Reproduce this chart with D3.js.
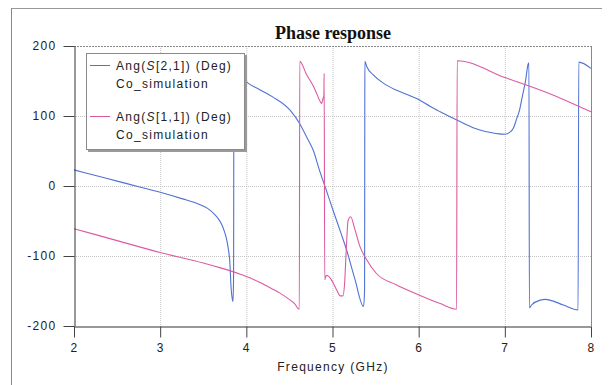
<!DOCTYPE html>
<html>
<head>
<meta charset="utf-8">
<script src="https://cdn.jsdelivr.net/npm/d3@7/dist/d3.min.js"></script>
<style>
  html, body { margin: 0; padding: 0; background: #fff; }
  svg { display: block; }
  .lbl { font-family: "Liberation Sans", Arial, sans-serif; font-size: 12px; letter-spacing: 1.3px; fill: #222; }
</style>
</head>
<body>
<svg id="chart" width="613" height="385"></svg>
<script>
// Frequency axis ticks (GHz) and phase axis ticks (degrees)
const freqTicks = [2, 3, 4, 5, 6, 7, 8];
const phaseTicks = [-200, -100, 0, 100, 200];

// Ang(S[2,1]) phase samples
const s21Freq = [2.0, 2.25, 2.5, 2.75, 3.0, 3.25, 3.45, 3.55, 3.62, 3.67, 3.71, 3.74, 3.765, 3.79, 3.81, 3.82, 3.835, 3.845,
  3.852, 3.856, 3.9, 3.95, 4.0, 4.02, 4.15, 4.31, 4.51, 4.62, 4.7, 4.78, 4.85, 4.92, 5.01, 5.1, 5.16, 5.26, 5.36,
  5.372, 5.376, 5.4, 5.47, 5.59, 5.74, 5.9, 6.01, 6.13, 6.25, 6.48, 6.71, 6.85, 6.93, 7.0, 7.06, 7.1, 7.14, 7.17,
  7.2, 7.24, 7.27, 7.28, 7.285, 7.31, 7.41, 7.47, 7.52, 7.68, 7.85, 7.858, 8.0];
const s21Phase = [23, 15, 7, -1, -9, -18, -26, -32, -39, -46, -54, -63, -73, -89, -112, -139, -160, -165,
  -130, 175, 162, 153, 149, 147, 138, 127, 108, 89, 70, 50, 22, -3, -36, -68, -90, -133, -172,
  -150, 178, 170, 159, 147, 137, 129, 123, 114, 106, 92, 80, 76, 74.5, 74, 77, 83, 97, 108,
  126, 150, 174, 176, -174, -170, -163, -162, -163, -170, -177, 177, 168];

// Ang(S[1,1]) phase samples
const s11Freq = [2.0, 2.5, 3.0, 3.5, 3.7, 3.93, 4.04, 4.16, 4.3, 4.39, 4.51, 4.56, 4.6, 4.615, 4.62, 4.7, 4.78, 4.82, 4.86,
  4.875, 4.89, 4.9, 4.903, 4.91, 4.925, 4.94, 5.01, 5.05, 5.09, 5.12, 5.14, 5.16, 5.18, 5.21, 5.26, 5.32, 5.4,
  5.51, 5.74, 6.01, 6.25, 6.44, 6.447, 7.0, 7.5, 8.0];
const s11Phase = [-61, -78, -95, -110, -117, -126, -131, -138, -147, -153, -163, -168, -175, -176, 178, 159, 142, 131, 120,
  118, 125, 130, 161, -134, -128, -128, -139, -149, -157, -157, -140, -90, -50, -44, -62, -87, -106,
  -125, -141, -156, -168, -176, 179, 155, 133, 106];

const seriesNames = ["Ang(S[2,1]) (Deg)", "Ang(S[1,1]) (Deg)"];
const sourceName = "Co_simulation";
const colors = ["#4f72d3", "#dc5aa2"];

const svg = d3.select("#chart");
const x = d3.scaleLinear().domain([2, 8]).range([74, 591]);
const y = d3.scaleLinear().domain([-200, 200]).range([326, 46]);

// outer frame (top and left edges)
svg.append("line").attr("x1", 11).attr("x2", 602).attr("y1", 8.5).attr("y2", 8.5)
  .attr("stroke", "#999").attr("stroke-width", 1);
svg.append("line").attr("x1", 11.5).attr("x2", 11.5).attr("y1", 8).attr("y2", 385)
  .attr("stroke", "#888").attr("stroke-width", 1);

// title
svg.append("text").attr("x", 333).attr("y", 39).attr("text-anchor", "middle")
  .style("font-family", "'Liberation Serif', 'Times New Roman', serif")
  .style("font-weight", "bold").style("font-size", "18px").style("fill", "#111")
  .text("Phase response");

// grid
const grid = svg.append("g");
grid.selectAll("line.v").data(freqTicks.slice(1, -1)).join("line")
  .attr("x1", d => x(d) + 0.5).attr("x2", d => x(d) + 0.5)
  .attr("y1", y(200)).attr("y2", y(-200))
  .attr("stroke", "#c4c4c4").attr("stroke-dasharray", "1,1");
grid.selectAll("line.h").data(phaseTicks.slice(1, -1)).join("line")
  .attr("x1", x(2)).attr("x2", x(8))
  .attr("y1", d => y(d) + 0.5).attr("y2", d => y(d) + 0.5)
  .attr("stroke", "#c4c4c4").attr("stroke-dasharray", "1,1");
// top and right borders of the plot
svg.append("line").attr("x1", x(2)).attr("x2", x(8)).attr("y1", y(200) + 0.5).attr("y2", y(200) + 0.5)
  .attr("stroke", "#888").attr("stroke-dasharray", "2,1");
svg.append("line").attr("x1", x(8) + 0.5).attr("x2", x(8) + 0.5).attr("y1", y(200)).attr("y2", y(-200))
  .attr("stroke", "#888");

// traces
const line = d3.line().x(d => x(d[0])).y(d => y(d[1])).curve(d3.curveMonotoneX);
const s21 = s21Freq.map((f, i) => [f, s21Phase[i]]);
const s11 = s11Freq.map((f, i) => [f, s11Phase[i]]);
[s21, s11].forEach((pts, i) => {
  svg.append("path").datum(pts).attr("d", line)
    .attr("fill", "none").attr("stroke", colors[i]).attr("stroke-width", 1.1)
    .attr("stroke-linejoin", "round");
});

// axes
const yAxis = svg.append("g").attr("transform", `translate(${x(2) + 0.5},0)`)
  .call(d3.axisLeft(y).tickValues(phaseTicks).tickSizeInner(11).tickSizeOuter(0).tickPadding(7)
    .tickFormat(d => String(d)));
const xAxis = svg.append("g").attr("transform", `translate(0,${y(-200) + 0.5})`)
  .call(d3.axisBottom(x).tickValues(freqTicks).tickSizeInner(11).tickSizeOuter(0).tickPadding(6)
    .tickFormat(d3.format("d")));
[yAxis, xAxis].forEach(g => {
  g.select(".domain").attr("stroke", "#333");
  g.selectAll(".tick line").attr("stroke", "#444");
  g.selectAll(".tick text").attr("class", "lbl").attr("fill", "#222");
});

// axis title
svg.append("text").attr("class", "lbl").attr("x", 333).attr("y", 371).attr("text-anchor", "middle")
  .text("Frequency (GHz)");

// legend
const lg = svg.append("g");
lg.append("rect").attr("x", 88).attr("y", 55).attr("width", 159).attr("height", 97).attr("fill", "#9a9a9a");
lg.append("rect").attr("x", 86.5).attr("y", 53.5).attr("width", 158).attr("height", 96)
  .attr("fill", "#fff").attr("stroke", "#8a8a8a");
seriesNames.forEach((name, i) => {
  const oy = i * 51;
  lg.append("line").attr("x1", 90).attr("x2", 110).attr("y1", 65.5 + oy).attr("y2", 65.5 + oy)
    .attr("stroke", colors[i]).attr("stroke-width", 1);
  const m = name.match(/^(Ang\()S(.*)$/);
  const t = lg.append("text").attr("class", "lbl").attr("x", 116).attr("y", 70 + oy);
  t.append("tspan").text(m[1]);
  t.append("tspan").style("font-style", "italic").text("S");
  t.append("tspan").text(m[2]);
  lg.append("text").attr("class", "lbl").attr("x", 116).attr("y", 88 + oy).text(sourceName);
});
</script>
</body>
</html>
